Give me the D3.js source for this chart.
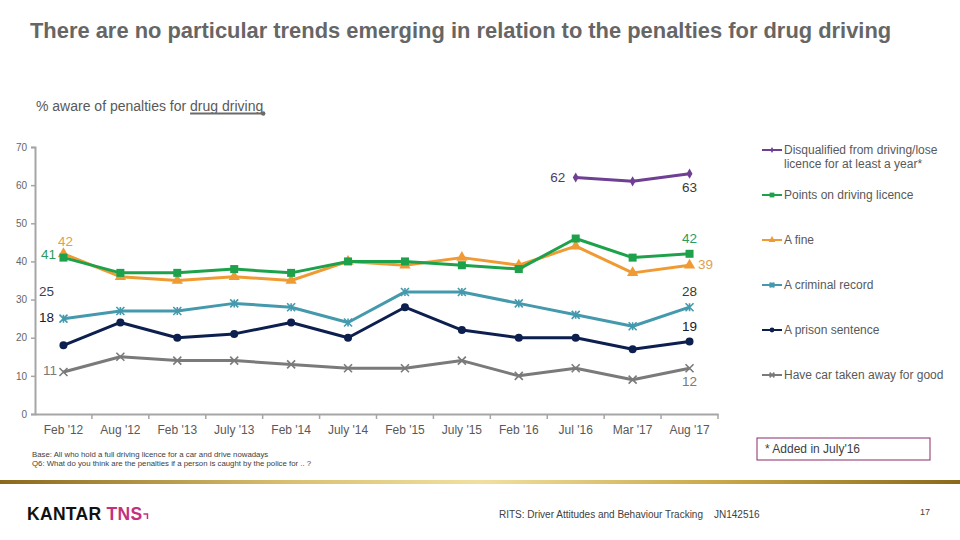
<!DOCTYPE html>
<html><head><meta charset="utf-8">
<script src="https://cdn.jsdelivr.net/npm/d3@7"></script>
<style>body{margin:0;background:#fff}svg{display:block;font-family:"Liberation Sans",Arial,sans-serif}</style>
</head><body><svg id="c" width="960" height="540"></svg>
<script>
const categories = ["Feb '12","Aug '12","Feb '13","July '13","Feb '14","July '14","Feb '15","July '15","Feb '16","Jul '16","Mar '17","Aug '17"];
const disqualified = [null,null,null,null,null,null,null,null,null,62,61,63];
const points = [41,37,37,38,37,40,40,39,38,46,41,42];
const fine = [42,36,35,36,35,40,39,41,39,44,37,39];
const criminal = [25,27,27,29,28,24,32,32,29,26,23,28];
const prison = [18,24,20,21,24,20,28,22,20,20,17,19];
const carTaken = [11,15,14,14,13,12,12,14,10,12,9,12];
const yTicks = [0,10,20,30,40,50,60,70];
const seriesNames = ["Disqualified from driving/lose|licence for at least a year*","Points on driving licence","A fine","A criminal record","A prison sentence","Have car taken away for good"];

const series = [
  {name:seriesNames[0], values:disqualified, color:"#6f3f93", marker:"diamond"},
  {name:seriesNames[1], values:points, color:"#1da24b", marker:"square"},
  {name:seriesNames[2], values:fine, color:"#f09a34", marker:"triangle"},
  {name:seriesNames[3], values:criminal, color:"#4599ad", marker:"star"},
  {name:seriesNames[4], values:prison, color:"#0d1f4e", marker:"circle"},
  {name:seriesNames[5], values:carTaken, color:"#7a7a7a", marker:"cross"}
];

const svg = d3.select("#c");
const x = d3.scaleBand().domain(categories).range([35,718]);
const y = d3.scaleLinear().domain([0,70]).range([414,147]);
const cx = c => x(c) + x.bandwidth()/2;

// Title
svg.append("text").attr("x",30).attr("y",38).attr("font-size",21.9).attr("font-weight","bold").attr("fill","#666")
  .text("There are no particular trends emerging in relation to the penalties for drug driving");
// Subtitle
const subPre = "% aware of penalties for ";
const sub = svg.append("text").attr("x",36).attr("y",111).attr("font-size",14).attr("fill","#595959")
  .text(subPre + "drug driving");
const sn = sub.node();
const ux1 = sn.getStartPositionOfChar(subPre.length).x;
const ux2 = sn.getEndPositionOfChar(sn.getNumberOfChars()-1).x;
svg.append("line").attr("x1",ux1).attr("x2",ux2).attr("y1",113.5).attr("y2",113.5).attr("stroke","#6a6a6a").attr("stroke-width",2);
svg.append("circle").attr("cx",ux2).attr("cy",113.5).attr("r",2.2).attr("fill","#6a6a6a");

// Axes
const yAxis = svg.append("g").attr("transform","translate(35,0)")
  .call(d3.axisLeft(y).tickValues(yTicks).tickSize(4).tickPadding(4));
yAxis.select(".domain").attr("stroke","#a6a6a6").attr("stroke-width",2);
yAxis.selectAll(".tick line").attr("stroke","#a6a6a6").attr("stroke-width",1.5);
yAxis.selectAll(".tick text").attr("fill","#666").attr("font-size",10).attr("font-family","Liberation Sans, Arial");

const xAxis = svg.append("g").attr("transform","translate(0,414)")
  .call(d3.axisBottom(x).tickSize(0).tickPadding(11));
xAxis.select(".domain").attr("stroke","#a6a6a6").attr("stroke-width",2);
xAxis.selectAll(".tick text").attr("fill","#595959").attr("font-size",12).attr("font-family","Liberation Sans, Arial");
const bounds = categories.map(c => x(c)).concat([x(categories[categories.length-1]) + x.bandwidth()]);
svg.append("g").selectAll("line").data(bounds.slice(1)).join("line")
  .attr("x1",d=>d).attr("x2",d=>d).attr("y1",414).attr("y2",419).attr("stroke","#a6a6a6").attr("stroke-width",1.5);

function drawMarker(g, type, color, px, py, s) {
  s = s || 1;
  if (type==="diamond") g.append("path").attr("d",d3.symbol(d3.symbolDiamond, 30*s*s)()).attr("transform",`translate(${px},${py})`).attr("fill",color);
  else if (type==="square") g.append("rect").attr("x",px-4*s).attr("y",py-4*s).attr("width",8*s).attr("height",8*s).attr("fill",color);
  else if (type==="triangle") g.append("path").attr("d",d3.symbol(d3.symbolTriangle, 55*s*s)()).attr("transform",`translate(${px},${py})`).attr("fill",color);
  else if (type==="circle") g.append("circle").attr("cx",px).attr("cy",py).attr("r",4*s).attr("fill",color);
  else if (type==="star" || type==="cross") {
    const r = 4*s;
    const p = `M${px-r},${py-r}L${px+r},${py+r}M${px-r},${py+r}L${px+r},${py-r}` + (type==="star" ? `M${px},${py-r}L${px},${py+r}` : "");
    g.append("path").attr("d",p).attr("stroke",color).attr("stroke-width",1.6).attr("fill","none");
  }
}

const line = d3.line().defined(d => d.v !== null).x(d => cx(d.c)).y(d => y(d.v));
[...series].reverse().forEach(s => {
  const data = categories.map((c,i)=>({c, v:s.values[i]}));
  const g = svg.append("g");
  g.append("path").datum(data).attr("d",line).attr("fill","none").attr("stroke",s.color).attr("stroke-width",3).attr("stroke-linejoin","round");
  data.filter(d=>d.v!==null).forEach(d => drawMarker(g, s.marker, s.color, cx(d.c), y(d.v)));
});

const lbl = (val, cat, dx, dy, color, anchor) => svg.append("text")
  .attr("x", cx(cat)+dx).attr("y", y(val)+dy).attr("font-size",13.5).attr("fill",color)
  .attr("text-anchor",anchor||"middle").text(val);
const first = categories[0], last = categories[11];
lbl(fine[0], first, 2, -8, "#e0a050");
lbl(points[0], first, -7.5, 1.5, "#2e9a5e", "end");
lbl(criminal[0], first, -9.5, -22.7, "#3a3f55", "end");
lbl(prison[0], first, -9.5, -23, "#1a1a2a", "end");
lbl(carTaken[0], first, -6.5, 3, "#7a7a7a", "end");
lbl(disqualified[9], categories[9], -10.5, 4.5, "#4e3a6a", "end");
lbl(disqualified[11], last, 0, 18, "#3a3a3a");
lbl(points[11], last, 0, -11, "#2e9a5e");
lbl(fine[11], last, 8.5, 4, "#e0a050", "start");
lbl(criminal[11], last, 0, -11, "#3a3a3a");
lbl(prison[11], last, 0, -10.5, "#1a1a2a");
lbl(carTaken[11], last, 0, 18, "#7a7a7a");

const legY = [150,195,240,285,330,375];
series.forEach((s,i) => {
  const g = svg.append("g");
  g.append("line").attr("x1",762).attr("x2",782).attr("y1",legY[i]).attr("y2",legY[i]).attr("stroke",s.color).attr("stroke-width",2);
  drawMarker(g, s.marker, s.color, 772, legY[i], 0.6);
  const parts = s.name.split("|");
  const t = g.append("text").attr("x",784).attr("y",legY[i]+4).attr("font-size",12).attr("fill","#595959");
  parts.forEach((p,j) => t.append("tspan").attr("x",784).attr("dy", j ? 13.5 : 0).text(p));
});

svg.append("text").attr("x",32).attr("y",457).attr("font-size",7.8).attr("fill","#404040").text("Base: All who hold a full driving licence for a car and drive nowadays");
svg.append("text").attr("x",32).attr("y",466).attr("font-size",7.8).attr("fill","#404040").text("Q6: What do you think are the penalties if a person is caught by the police for .. ?");
svg.append("rect").attr("x",757).attr("y",438).attr("width",173).attr("height",22).attr("fill","#fff").attr("stroke","#8b2a6a").attr("stroke-width",1);
svg.append("text").attr("x",765).attr("y",453).attr("font-size",12).attr("fill","#404040").text("* Added in  July'16");

const defs = svg.append("defs");
const gr = defs.append("linearGradient").attr("id","gold");
[["0%","#8a6a1a"],["30%","#d8c070"],["50%","#f0e0a0"],["75%","#c8a848"],["100%","#8a6a1a"]].forEach(s=>gr.append("stop").attr("offset",s[0]).attr("stop-color",s[1]));
svg.append("rect").attr("x",0).attr("y",480).attr("width",960).attr("height",4).attr("fill","url(#gold)");

const logo = svg.append("text").attr("x",27).attr("y",520).attr("font-size",17.5).attr("font-weight","bold").attr("letter-spacing",0.3);
logo.append("tspan").attr("fill","#111").text("KANTAR ");
logo.append("tspan").attr("fill","#c4307c").text("TNS");
const lb = logo.node().getBBox();
svg.append("path").attr("d",`M${lb.x+lb.width+1},${514} h4 v5`).attr("stroke","#c4307c").attr("stroke-width",1.5).attr("fill","none");

svg.append("text").attr("x",499).attr("y",518).attr("font-size",10).attr("fill","#404040").text("RITS: Driver Attitudes and Behaviour Tracking");
svg.append("text").attr("x",714).attr("y",518).attr("font-size",10).attr("fill","#404040").text("JN142516");
svg.append("text").attr("x",920).attr("y",515).attr("font-size",9).attr("fill","#404040").text("17");
</script></body></html>
